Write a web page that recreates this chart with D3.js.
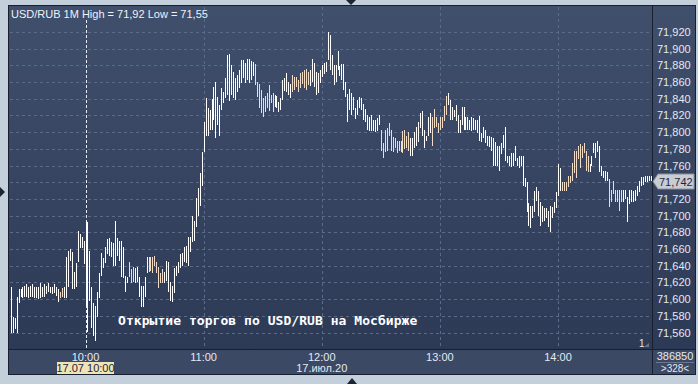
<!DOCTYPE html>
<html>
<head>
<meta charset="utf-8">
<script src="https://cdn.jsdelivr.net/npm/d3@7"></script>
<style>
  body { margin: 0; background: #c3cfdb; }
  svg { display: block; }
</style>
</head>
<body>
<div id="chart"></div>
<script>
// 1-minute bars, USD/RUB, 17.07.2020 from 9:22
const startTime = new Date(2020, 6, 17, 9, 22);

const highs = [
  71.614, 71.579, 71.577, 71.603, 71.612, 71.612, 71.615, 71.616, 71.618, 71.615,
  71.616, 71.618, 71.614, 71.614, 71.615, 71.619, 71.614, 71.618, 71.616, 71.619,
  71.615, 71.615, 71.618, 71.615, 71.612, 71.609, 71.613, 71.614, 71.651, 71.658,
  71.660, 71.657, 71.632, 71.643, 71.681, 71.678, 71.675, 71.670, 71.694, 71.692,
  71.658, 71.614, 71.595, 71.592, 71.609, 71.631, 71.655, 71.649, 71.663, 71.672,
  71.673, 71.669, 71.667, 71.693, 71.673, 71.670, 71.670, 71.662, 71.628, 71.627,
  71.645, 71.636, 71.639, 71.637, 71.638, 71.626, 71.616, 71.616, 71.626, 71.651,
  71.651, 71.651, 71.651, 71.652, 71.644, 71.638, 71.631, 71.636, 71.632, 71.646,
  71.644, 71.620, 71.616, 71.637, 71.640, 71.645, 71.654, 71.655, 71.662, 71.664,
  71.674, 71.675, 71.700, 71.693, 71.721, 71.733, 71.751, 71.776, 71.812, 71.841,
  71.829, 71.826, 71.840, 71.854, 71.860, 71.842, 71.832, 71.853, 71.848, 71.865,
  71.892, 71.894, 71.880, 71.872, 71.865, 71.868, 71.874, 71.886, 71.886, 71.883,
  71.888, 71.888, 71.885, 71.884, 71.882, 71.860, 71.858, 71.850, 71.841, 71.843,
  71.847, 71.856, 71.844, 71.847, 71.844, 71.843, 71.836, 71.841, 71.862, 71.865,
  71.871, 71.860, 71.858, 71.868, 71.866, 71.866, 71.862, 71.871, 71.872, 71.874,
  71.876, 71.872, 71.874, 71.888, 71.883, 71.872, 71.871, 71.874, 71.880, 71.883,
  71.884, 71.920, 71.916, 71.892, 71.880, 71.880, 71.897, 71.879, 71.882, 71.882,
  71.860, 71.846, 71.852, 71.847, 71.842, 71.829, 71.838, 71.842, 71.841, 71.834,
  71.828, 71.820, 71.818, 71.820, 71.814, 71.814, 71.817, 71.820, 71.802, 71.787,
  71.802, 71.805, 71.811, 71.802, 71.794, 71.793, 71.790, 71.790, 71.790, 71.801,
  71.802, 71.796, 71.800, 71.793, 71.793, 71.800, 71.806, 71.812, 71.823, 71.825,
  71.802, 71.796, 71.818, 71.823, 71.818, 71.828, 71.818, 71.811, 71.818, 71.818,
  71.831, 71.843, 71.847, 71.838, 71.830, 71.826, 71.832, 71.820, 71.814, 71.830,
  71.830, 71.818, 71.818, 71.814, 71.818, 71.817, 71.814, 71.814, 71.819, 71.799,
  71.806, 71.802, 71.796, 71.795, 71.794, 71.793, 71.788, 71.783, 71.783, 71.787,
  71.797, 71.806, 71.772, 71.772, 71.775, 71.775, 71.784, 71.769, 71.771, 71.771,
  71.771, 71.745, 71.740, 71.715, 71.711, 71.711, 71.730, 71.734, 71.730, 71.716,
  71.712, 71.709, 71.709, 71.706, 71.712, 71.710, 71.716, 71.728, 71.762, 71.757,
  71.740, 71.740, 71.740, 71.748, 71.748, 71.763, 71.778, 71.778, 71.784, 71.786,
  71.783, 71.787, 71.778, 71.772, 71.762, 71.772, 71.787, 71.787, 71.789, 71.783,
  71.760, 71.754, 71.753, 71.752, 71.744, 71.731, 71.742, 71.731, 71.731, 71.731,
  71.731, 71.731, 71.731, 71.722, 71.731, 71.731, 71.729, 71.731, 71.736, 71.741,
  71.746, 71.746, 71.747, 71.747, 71.748, 71.748
];

const lows = [
  71.560, 71.560, 71.564, 71.559, 71.595, 71.603, 71.601, 71.603, 71.602, 71.601,
  71.602, 71.603, 71.601, 71.601, 71.600, 71.601, 71.602, 71.603, 71.606, 71.608,
  71.607, 71.606, 71.607, 71.604, 71.597, 71.601, 71.603, 71.601, 71.601, 71.614,
  71.646, 71.612, 71.612, 71.615, 71.644, 71.661, 71.661, 71.642, 71.592, 71.561,
  71.598, 71.565, 71.556, 71.550, 71.579, 71.601, 71.628, 71.637, 71.643, 71.654,
  71.652, 71.651, 71.640, 71.640, 71.652, 71.646, 71.626, 71.625, 71.608, 71.619,
  71.626, 71.619, 71.620, 71.619, 71.620, 71.602, 71.590, 71.590, 71.602, 71.631,
  71.632, 71.634, 71.631, 71.640, 71.631, 71.613, 71.619, 71.619, 71.619, 71.622,
  71.608, 71.598, 71.596, 71.607, 71.628, 71.631, 71.637, 71.640, 71.644, 71.643,
  71.640, 71.656, 71.668, 71.670, 71.686, 71.699, 71.711, 71.736, 71.776, 71.796,
  71.795, 71.802, 71.802, 71.814, 71.793, 71.808, 71.795, 71.826, 71.835, 71.841,
  71.844, 71.837, 71.844, 71.841, 71.838, 71.848, 71.853, 71.859, 71.865, 71.859,
  71.862, 71.859, 71.862, 71.867, 71.856, 71.842, 71.829, 71.823, 71.818, 71.824,
  71.829, 71.825, 71.835, 71.824, 71.830, 71.829, 71.824, 71.826, 71.838, 71.849,
  71.848, 71.844, 71.841, 71.848, 71.850, 71.854, 71.848, 71.853, 71.858, 71.853,
  71.850, 71.856, 71.855, 71.860, 71.854, 71.844, 71.847, 71.859, 71.866, 71.870,
  71.872, 71.886, 71.874, 71.868, 71.856, 71.860, 71.874, 71.867, 71.862, 71.850,
  71.842, 71.812, 71.826, 71.820, 71.826, 71.816, 71.820, 71.829, 71.826, 71.814,
  71.812, 71.802, 71.801, 71.801, 71.801, 71.800, 71.801, 71.808, 71.777, 71.769,
  71.776, 71.778, 71.796, 71.778, 71.776, 71.781, 71.775, 71.778, 71.776, 71.775,
  71.780, 71.781, 71.778, 71.772, 71.771, 71.781, 71.784, 71.788, 71.805, 71.795,
  71.781, 71.790, 71.796, 71.799, 71.783, 71.805, 71.806, 71.799, 71.802, 71.805,
  71.813, 71.820, 71.832, 71.814, 71.814, 71.818, 71.813, 71.799, 71.799, 71.808,
  71.802, 71.802, 71.802, 71.802, 71.801, 71.802, 71.802, 71.799, 71.790, 71.788,
  71.793, 71.787, 71.783, 71.782, 71.778, 71.759, 71.760, 71.759, 71.753, 71.774,
  71.781, 71.765, 71.763, 71.759, 71.758, 71.760, 71.766, 71.759, 71.757, 71.760,
  71.735, 71.734, 71.704, 71.688, 71.685, 71.697, 71.704, 71.718, 71.700, 71.688,
  71.692, 71.694, 71.697, 71.686, 71.680, 71.697, 71.703, 71.709, 71.724, 71.730,
  71.730, 71.730, 71.730, 71.734, 71.739, 71.742, 71.751, 71.745, 71.768, 71.757,
  71.769, 71.775, 71.754, 71.752, 71.752, 71.760, 71.775, 71.769, 71.776, 71.752,
  71.748, 71.745, 71.742, 71.742, 71.710, 71.716, 71.726, 71.716, 71.716, 71.706,
  71.716, 71.716, 71.720, 71.692, 71.714, 71.716, 71.716, 71.718, 71.724, 71.728,
  71.735, 71.737, 71.740, 71.740, 71.741, 71.741
];

// bars drawn in the tan colour
const tanBars = [
  25, 26, 60, 61, 62, 70, 71, 72, 73, 74, 75, 76, 77,
  124, 125, 126, 127, 128, 129, 130, 131, 132, 133,
  143, 144, 145, 146, 147, 148, 149, 150, 151,
  188, 189, 190, 191, 192, 193, 194, 195, 196, 197, 198, 199, 200, 201, 202,
  214, 215, 216, 217, 218, 219, 220, 221,
  280, 281, 282, 283, 284, 285, 286, 287, 288, 289, 290, 291, 292, 293,
  304, 305, 306, 307, 308, 309, 310
];

const priceTicks = [71.56, 71.58, 71.60, 71.62, 71.64, 71.66, 71.68, 71.70, 71.72,
  71.74, 71.76, 71.78, 71.80, 71.82, 71.84, 71.86, 71.88, 71.90, 71.92];
const hourTicks = [10, 11, 12, 13, 14];
const lastPrice = 71.742;
const cursorHour = 10;

const title = "USD/RUB 1M High = 71,92 Low = 71,55";
const note = "Открытие торгов по USD/RUB на Мосбирже";
const dateLabel = "17.июл.20";
const cursorLabel = "17.07 10:00";
const volumeLabel = "386850";
const countLabel = ">328<";

const width = 698;
const height = 384;
const plot = { left: 9, right: 652, top: 6, bottom: 349 };
const axisBottom = 374;
const axisRight = 695;

const ruLocale = d3.formatLocale({ decimal: ",", thousands: " ", grouping: [3], currency: ["", ""] });
const fmt3 = ruLocale.format(".3f");

const times = highs.map((d, i) => d3.timeMinute.offset(startTime, i));
const day = (h) => new Date(2020, 6, 17, h, 0);

const x = d3.scaleTime()
  .domain([day(10), day(14)])
  .range([85.5, 558]);

const y = d3.scaleLinear()
  .domain([71.56, 71.92])
  .range([332.5, 32]);

const svg = d3.select("#chart")
  .append("svg")
  .attr("width", width)
  .attr("height", height)
  .style("font-family", "'Liberation Sans', Arial, sans-serif");

const defs = svg.append("defs");
const grad = defs.append("linearGradient")
  .attr("id", "bg")
  .attr("x1", 0).attr("y1", 0).attr("x2", 0).attr("y2", 1);
grad.append("stop").attr("offset", "0%").attr("stop-color", "#404f6c");
grad.append("stop").attr("offset", "100%").attr("stop-color", "#2d3a56");

// outer frame
svg.append("rect")
  .attr("width", width).attr("height", height)
  .attr("fill", "#c3cfdb");

// plot + right axis panel
svg.append("rect")
  .attr("x", plot.left).attr("y", plot.top)
  .attr("width", axisRight - plot.left).attr("height", plot.bottom - plot.top)
  .attr("fill", "url(#bg)");

// bottom axis panel
svg.append("rect")
  .attr("x", plot.left).attr("y", plot.bottom + 1)
  .attr("width", axisRight - plot.left).attr("height", axisBottom - plot.bottom - 1)
  .attr("fill", "#3b4965");

// borders
const border = svg.append("g")
  .attr("stroke", "#18202f")
  .attr("shape-rendering", "crispEdges");
border.append("rect")
  .attr("x", plot.left - 0.5).attr("y", plot.top - 0.5)
  .attr("width", axisRight - plot.left + 1).attr("height", axisBottom - plot.top + 1)
  .attr("fill", "none");
border.append("line")
  .attr("x1", plot.right + 0.5).attr("x2", plot.right + 0.5)
  .attr("y1", plot.top).attr("y2", axisBottom);
border.append("line")
  .attr("x1", plot.left).attr("x2", axisRight)
  .attr("y1", plot.bottom + 0.5).attr("y2", plot.bottom + 0.5);

// grid
const grid = svg.append("g")
  .attr("stroke", "#5b6a88")
  .attr("stroke-dasharray", "3,3")
  .attr("shape-rendering", "crispEdges");
grid.selectAll("line.h")
  .data(priceTicks)
  .enter()
  .append("line")
  .attr("class", "h")
  .attr("x1", plot.left + 1).attr("x2", plot.right)
  .attr("y1", (d) => Math.round(y(d)) + 0.5)
  .attr("y2", (d) => Math.round(y(d)) + 0.5);
grid.selectAll("line.v")
  .data(hourTicks.filter((h) => h !== cursorHour))
  .enter()
  .append("line")
  .attr("class", "v")
  .attr("x1", (d) => Math.round(x(day(d))) + 0.5)
  .attr("x2", (d) => Math.round(x(day(d))) + 0.5)
  .attr("y1", plot.top + 1).attr("y2", plot.bottom);

// cursor line
svg.append("line")
  .attr("x1", Math.round(x(day(cursorHour))) + 0.5)
  .attr("x2", Math.round(x(day(cursorHour))) + 0.5)
  .attr("y1", plot.top + 14).attr("y2", plot.bottom)
  .attr("stroke", "#e8ecf4")
  .attr("stroke-dasharray", "3,2")
  .attr("shape-rendering", "crispEdges");

// bars
const tanSet = new Set(tanBars);
svg.append("g")
  .attr("shape-rendering", "crispEdges")
  .selectAll("rect")
  .data(highs)
  .enter()
  .append("rect")
  .attr("x", (d, i) => Math.round(x(times[i])))
  .attr("y", (d) => Math.round(y(d)))
  .attr("width", 1)
  .attr("height", (d, i) => Math.max(2, Math.round(y(lows[i])) - Math.round(y(d))))
  .attr("fill", (d, i) => (tanSet.has(i) ? "#f2dcc6" : "#ffffff"));

// title
svg.append("text")
  .attr("x", 11).attr("y", 18)
  .attr("font-size", 11)
  .attr("fill", "#eef2f8")
  .text(title);

// annotation
svg.append("text")
  .attr("x", 118).attr("y", 325)
  .attr("font-family", "'DejaVu Sans Mono', monospace")
  .attr("font-size", 13)
  .attr("font-weight", "bold")
  .attr("letter-spacing", 0.05)
  .attr("fill", "#ffffff")
  .text(note);

// right axis labels (the one under the last-price marker is hidden)
const ly = Math.round(y(lastPrice));
svg.append("g")
  .selectAll("text")
  .data(priceTicks.filter((d) => Math.abs(y(d) - ly) > 9))
  .enter()
  .append("text")
  .attr("x", 657)
  .attr("y", (d) => y(d) + 4)
  .attr("font-size", 11)
  .attr("fill", "#e4e9f2")
  .text((d) => fmt3(d));

// last price marker
svg.append("path")
  .attr("d", `M${plot.right + 1},${ly + 0.5} L${plot.right + 6},${ly - 7} H${axisRight - 1} V${ly + 8} H${plot.right + 6} Z`)
  .attr("fill", "#c9cdd3")
  .attr("stroke", "#8a909a");
svg.append("text")
  .attr("x", 659).attr("y", ly + 4.5)
  .attr("font-size", 11)
  .attr("fill", "#1e2636")
  .text(fmt3(lastPrice));

// bottom axis labels
svg.append("g")
  .selectAll("text")
  .data(hourTicks)
  .enter()
  .append("text")
  .attr("x", (d) => x(day(d)))
  .attr("y", 361)
  .attr("text-anchor", "middle")
  .attr("font-size", 11)
  .attr("fill", "#e4e9f2")
  .text((d) => d3.timeFormat("%H:%M")(day(d)));

svg.append("text")
  .attr("x", x(day(12)))
  .attr("y", 372)
  .attr("text-anchor", "middle")
  .attr("font-size", 11)
  .attr("fill", "#e4e9f2")
  .text(dateLabel);

// cursor date box
const cx = x(day(cursorHour));
svg.append("rect")
  .attr("x", Math.round(cx) - 29).attr("y", 362)
  .attr("width", 57).attr("height", 12)
  .attr("fill", "#efe3b8");
svg.append("text")
  .attr("x", cx).attr("y", 372)
  .attr("text-anchor", "middle")
  .attr("font-size", 11)
  .attr("fill", "#1e2636")
  .text(cursorLabel);

// pane number
svg.append("text")
  .attr("x", 639).attr("y", 347)
  .attr("font-size", 10)
  .attr("fill", "#e4e9f2")
  .text("1");
svg.append("path")
  .attr("d", "M644,347 L649,347 L649,343 Z")
  .attr("fill", "#6a7690");

// volume / count box
svg.append("text")
  .attr("x", 675).attr("y", 360)
  .attr("text-anchor", "middle")
  .attr("font-size", 11)
  .attr("fill", "#e4e9f2")
  .text(volumeLabel);
svg.append("line")
  .attr("x1", 656).attr("x2", 694)
  .attr("y1", 362.5).attr("y2", 362.5)
  .attr("stroke", "#6a7690");
svg.append("text")
  .attr("x", 675).attr("y", 372)
  .attr("text-anchor", "middle")
  .attr("font-size", 10)
  .attr("fill", "#e4e9f2")
  .text(countLabel);

// frame arrows
const arrows = svg.append("g").attr("fill", "#1c2436");
arrows.append("path").attr("d", "M0,187 L5,192 L0,197 Z");
arrows.append("path").attr("d", "M346,0 L356,0 L351,5 Z");
arrows.append("path").attr("d", "M347,384 L357,384 L352,378 Z");
</script>
</body>
</html>
